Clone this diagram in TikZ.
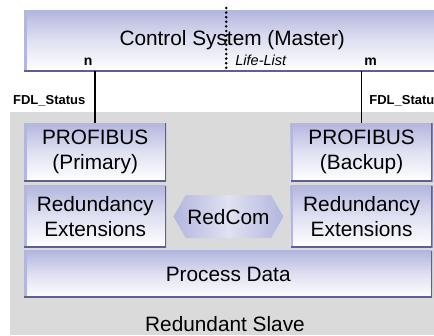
\documentclass[tikz,border=0pt]{standalone}
\usepackage{fontspec}
\setmainfont{Liberation Sans}
\usepackage{tikz}
\usetikzlibrary{positioning,shapes.arrows,calc}
\definecolor{lav}{HTML}{B3B6DE}
\definecolor{lavmid}{HTML}{E0E1F1}
\definecolor{rimblue}{HTML}{5F5F96}
\definecolor{slavegray}{HTML}{DADADA}

\begin{document}
\begin{tikzpicture}[x=1pt, y=1pt,
  box/.style={top color=lav, bottom color=white, middle color=lavmid, inner sep=2pt, align=center,
              font=\fontsize{20.8}{25}\selectfont,
              path picture={\draw[lav, line width=5pt] (path picture bounding box.south west) -- (path picture bounding box.north west);
                            \draw[rimblue, line width=3pt] (path picture bounding box.south west) -- (path picture bounding box.south east) -- (path picture bounding box.north east);}},
  redcom/.style={double arrow, double arrow head extend=0pt, double arrow tip angle=120, inner sep=1pt,
                 minimum height=110pt, minimum width=43pt, left color=lav, right color=lav, middle color=lavmid,
                 font=\fontsize{20.8}{25}\selectfont},
  link/.style={line width=1.6pt},
  port/.style={font=\fontsize{14}{16}\selectfont\bfseries, inner sep=0pt},
  fdl/.style={font=\fontsize{13}{15}\selectfont\bfseries, inner sep=0pt}]
  \useasboundingbox (0,0) rectangle (434,336);
  % slave background and master on top
  \node[fill=slavegray, inner sep=0pt, minimum width=430pt, minimum height=223pt, anchor=north west] (slave) at (10,224) {};
  \node[box, minimum width=416pt, minimum height=61pt, anchor=north west, text depth=6pt] (master) at (24,326) {Control System (Master)};
  \node[anchor=base, font=\fontsize{20.8}{25}\selectfont] (slavelbl) at (225,4) {Redundant Slave};

  % slave blocks
  \node[box, minimum width=142pt, minimum height=58pt, anchor=north west] (primary) at (24,213) {PROFIBUS\\(Primary)};
  \node[box, minimum width=142pt, minimum height=58pt, right=124pt of primary] (backup) {PROFIBUS\\(Backup)};
  \node[box, minimum width=142pt, minimum height=62pt, below=4pt of primary] (redP) {Redundancy\\Extensions};
  \node[box, minimum width=142pt, minimum height=62pt, below=4pt of backup] (redB) {Redundancy\\Extensions};
  \node[redcom] (rc) at ($(redP)!0.5!(redB)$) {RedCom};
  \node[box, minimum width=408pt, minimum height=47pt, anchor=north west] (process) at ([yshift=-3pt]redP.south west) {Process Data};

  % life list divider
  \draw[line width=2.8pt, line cap=round, dash pattern=on 0pt off 4.6pt]
    ([xshift=-6pt,yshift=2pt]master.north) -- ([xshift=-6pt,yshift=3pt]master.south);
  \node[anchor=base west, font=\fontsize{14.5}{16}\selectfont\itshape, inner sep=0pt] (life) at ([xshift=3pt,yshift=6pt]master.south) {Life-List};

  % bus links
  \draw[link] (primary.north) -- (primary.north |- master.south) node[pos=0.44, fdl, anchor=east, xshift=-9pt] {FDL\_Status};
  \draw[link] (backup.north) -- (backup.north |- master.south) node[pos=0.44, fdl, anchor=west, xshift=7pt] {FDL\_Status};
  \node[port, anchor=base] (n) at ([xshift=-7pt,yshift=6pt]primary.north |- master.south) {n};
  \node[port, anchor=base] (m) at ([xshift=9pt,yshift=6pt]backup.north |- master.south) {m};
\end{tikzpicture}
\end{document}
